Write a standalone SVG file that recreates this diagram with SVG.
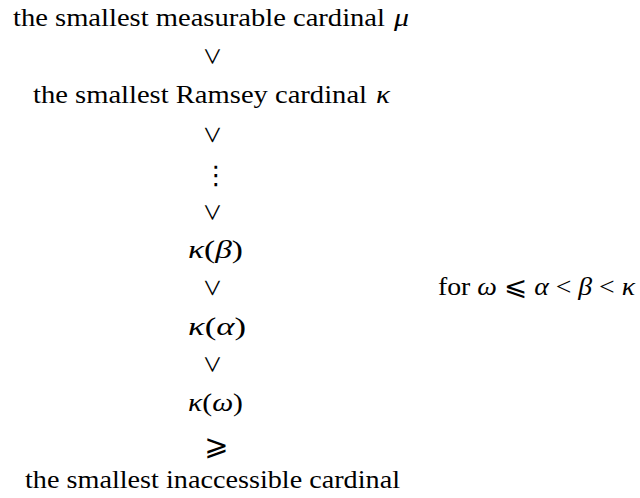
<svg xmlns="http://www.w3.org/2000/svg" width="640" height="498" viewBox="0 0 640 498">
<style>
text{font-family:"Liberation Serif","DejaVu Serif",serif;font-size:26px;fill:#000}
.m{font-style:italic}
.c{text-anchor:middle}
.rel{font-size:31px;text-anchor:middle;dominant-baseline:central}
.sym{font-family:"DejaVu Sans",sans-serif;text-anchor:middle}
</style>
<defs>
<text id="vee" class="rel" transform="rotate(-90)">&lt;</text>
</defs>
<rect width="640" height="498" fill="#fff"/>
<g id="measurable">
<text x="13" y="26" textLength="372" lengthAdjust="spacingAndGlyphs">the smallest measurable cardinal</text>
<text class="m" x="394" y="26" textLength="15" lengthAdjust="spacingAndGlyphs">μ</text>
</g>
<g id="ramsey">
<text x="33" y="103" textLength="334" lengthAdjust="spacingAndGlyphs">the smallest Ramsey cardinal</text>
<text class="m" x="376" y="103" textLength="14" lengthAdjust="spacingAndGlyphs">κ</text>
</g>
<g id="dots"><text class="sym" x="216" y="184" style="font-size:26px">⋮</text></g>
<g id="kbeta"><text x="188" y="258" textLength="55" lengthAdjust="spacingAndGlyphs"><tspan class="m">κ</tspan>(<tspan class="m">β</tspan>)</text></g>
<g id="kalpha"><text x="188" y="335" textLength="58" lengthAdjust="spacingAndGlyphs"><tspan class="m">κ</tspan>(<tspan class="m">α</tspan>)</text></g>
<g id="komega"><text x="188" y="411" textLength="55" lengthAdjust="spacingAndGlyphs"><tspan class="m">κ</tspan>(<tspan class="m">ω</tspan>)</text></g>
<g id="inaccessible"><text x="25" y="488" textLength="375" lengthAdjust="spacingAndGlyphs">the smallest inaccessible cardinal</text></g>
<g id="condition"><text x="438" y="295" textLength="197" lengthAdjust="spacingAndGlyphs">for <tspan class="m">ω</tspan> ⩽ <tspan class="m">α</tspan> &lt; <tspan class="m">β</tspan> &lt; <tspan class="m">κ</tspan></text></g>
<g id="connectors">
<use href="#vee" transform="translate(212.5,56.5)"/>
<use href="#vee" transform="translate(212.5,135)"/>
<use href="#vee" transform="translate(212.5,212.5)"/>
<use href="#vee" transform="translate(212.5,288)"/>
<use href="#vee" transform="translate(212.5,364.5)"/>
<text class="sym" x="216.5" y="455" style="font-size:29px">⩾</text>
</g>
</svg>
